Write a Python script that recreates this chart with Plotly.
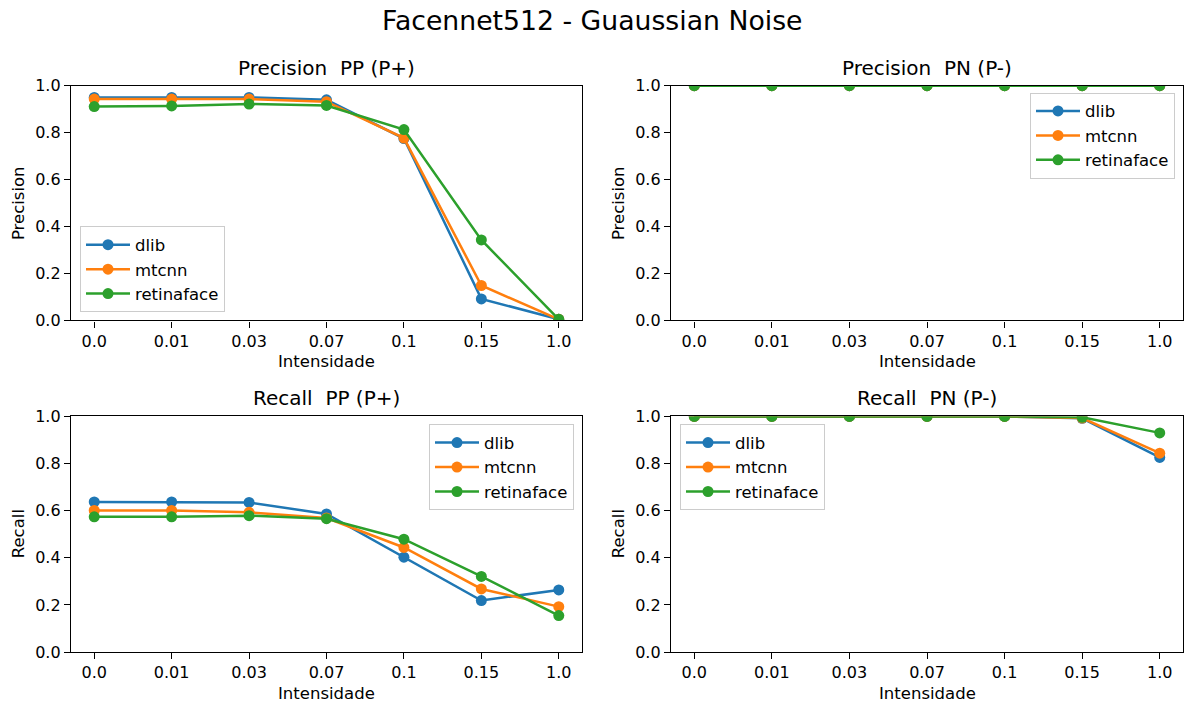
import plotly.graph_objects as go

W, H = 1184, 704

intensities = ["0.0", "0.01", "0.03", "0.07", "0.1", "0.15", "1.0"]
detectors = ["dlib", "mtcnn", "retinaface"]
colors = ["#1f77b4", "#ff7f0e", "#2ca02c"]

prec_pp_dlib = [0.950, 0.950, 0.950, 0.940, 0.775, 0.092, 0.005]
prec_pp_mtcnn = [0.943, 0.943, 0.943, 0.932, 0.777, 0.149, 0.005]
prec_pp_retina = [0.911, 0.914, 0.922, 0.916, 0.813, 0.343, 0.005]

prec_pn_dlib = [1.0, 1.0, 1.0, 1.0, 1.0, 1.0, 1.0]
prec_pn_mtcnn = [1.0, 1.0, 1.0, 1.0, 1.0, 1.0, 1.0]
prec_pn_retina = [1.0, 1.0, 1.0, 1.0, 1.0, 1.0, 1.0]

rec_pp_dlib = [0.637, 0.637, 0.635, 0.586, 0.403, 0.219, 0.264]
rec_pp_mtcnn = [0.601, 0.601, 0.593, 0.569, 0.444, 0.268, 0.193]
rec_pp_retina = [0.574, 0.574, 0.579, 0.566, 0.479, 0.321, 0.155]

rec_pn_dlib = [1.0, 1.0, 1.0, 1.0, 1.0, 0.992, 0.826]
rec_pn_mtcnn = [1.0, 1.0, 1.0, 1.0, 1.0, 0.993, 0.844]
rec_pn_retina = [1.0, 1.0, 1.0, 1.0, 1.0, 0.996, 0.930]

panels = [
    ("Precision  PP (P+)", "Precision", [prec_pp_dlib, prec_pp_mtcnn, prec_pp_retina],
     (71, 582, 85, 320), (80, 312, "left", "bottom")),
    ("Precision  PN (P-)", "Precision", [prec_pn_dlib, prec_pn_mtcnn, prec_pn_retina],
     (671, 1183, 85, 320), (1175, 92, "right", "top")),
    ("Recall  PP (P+)", "Recall", [rec_pp_dlib, rec_pp_mtcnn, rec_pp_retina],
     (71, 582, 416, 652), (574, 424, "right", "top")),
    ("Recall  PN (P-)", "Recall", [rec_pn_dlib, rec_pn_mtcnn, rec_pn_retina],
     (680, 1183, 416, 652), (680, 424, "left", "top")),
]
panels[3] = (panels[3][0], panels[3][1], panels[3][2], (671, 1183, 416, 652), panels[3][4])

# screen-to-figure vertical calibration
YOFF, YSC = 8.2, 0.974


def px(x):
    return x / W


def py(y):
    return 1 - ((y - YOFF) / YSC) / H


fig = go.Figure()
annotations = []
font = "DejaVu Sans, Liberation Sans, sans-serif"

for i, (title, ylabel, series, box, leg) in enumerate(panels):
    n = i + 1
    sfx = "" if n == 1 else str(n)
    xa, ya = "x" + sfx, "y" + sfx
    legname = "legend" + sfx
    for det, col, vals in zip(detectors, colors, series):
        fig.add_trace(go.Scatter(
            x=intensities, y=vals, name=det, mode="lines+markers",
            line=dict(color=col, width=2.5),
            marker=dict(color=col, size=11),
            xaxis=xa, yaxis=ya, legend=legname, showlegend=True,
        ))
    x0, x1, yt, yb = box
    axkw = dict(showline=True, linecolor="black", linewidth=1.3, mirror=True,
                ticks="outside", ticklen=6, tickcolor="black", tickwidth=1.3,
                showgrid=False, zeroline=False,
                tickfont=dict(family=font, size=16, color="black"))
    fig.layout["xaxis" + sfx] = dict(
        domain=[px(x0), px(x1)], anchor=ya, type="category",
        categoryorder="array", categoryarray=intensities,
        range=[-0.3, 6.3], **axkw)
    fig.layout["yaxis" + sfx] = dict(
        domain=[py(yb), py(yt)], anchor=xa, range=[0, 1],
        tickvals=[0, 0.2, 0.4, 0.6, 0.8, 1.0], tickformat=".1f", **axkw)
    lx, ly, xan, yan = leg
    fig.layout[legname] = dict(
        x=px(lx), y=py(ly), xanchor=xan, yanchor=yan, xref="paper", yref="paper",
        bgcolor="rgba(255,255,255,0.8)", bordercolor="#cccccc", borderwidth=1,
        font=dict(family=font, size=16.5, color="black"), itemwidth=44,
        tracegroupgap=0)
    cx = (x0 + x1) / 2
    annotations.append(dict(text=title, x=px(cx), y=py(yt - 18), xref="paper", yref="paper",
                            showarrow=False, xanchor="center", yanchor="middle",
                            font=dict(family=font, size=20, color="black")))
    annotations.append(dict(text="Intensidade", x=px(cx), y=py(yb + 41), xref="paper", yref="paper",
                            showarrow=False, xanchor="center", yanchor="middle",
                            font=dict(family=font, size=16.5, color="black")))
    annotations.append(dict(text=ylabel, x=px(x0 - 53), y=py((yt + yb) / 2), xref="paper", yref="paper",
                            showarrow=False, xanchor="center", yanchor="middle", textangle=-90,
                            font=dict(family=font, size=16.5, color="black")))

annotations.append(dict(text="Facennet512 - Guaussian Noise", x=0.5, y=py(20), xref="paper", yref="paper",
                        showarrow=False, xanchor="center", yanchor="middle",
                        font=dict(family=font, size=26.7, color="black")))

fig.update_layout(
    width=W, height=H, margin=dict(l=0, r=0, t=0, b=0),
    paper_bgcolor="white", plot_bgcolor="white",
    annotations=annotations, showlegend=True,
)

fig.write_html(
    "out.html",
    config={"displayModeBar": False},
    post_script="document.body.style.margin='0';document.body.style.overflow='hidden';",
)
